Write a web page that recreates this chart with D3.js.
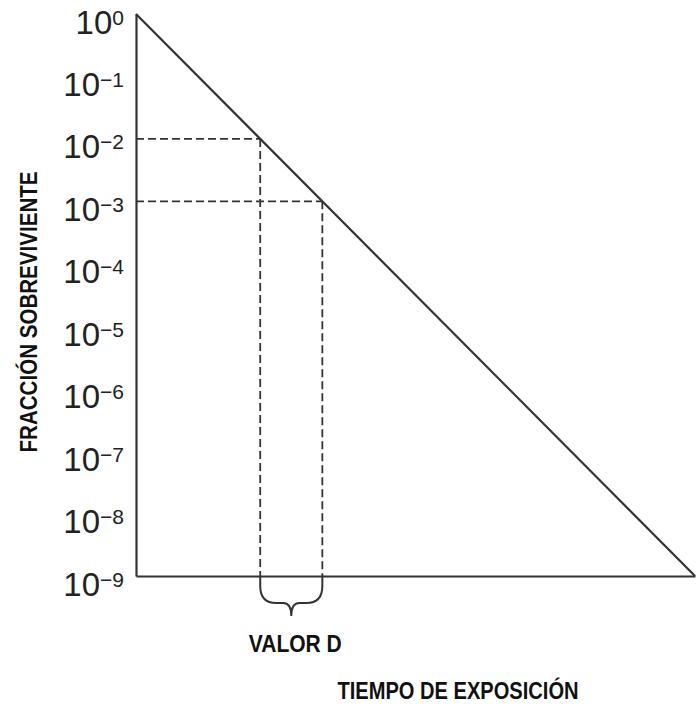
<!DOCTYPE html>
<html>
<head>
<meta charset="utf-8">
<script src="https://cdn.jsdelivr.net/npm/d3@7"></script>
<style>
  html, body { margin: 0; padding: 0; background: #fff; }
  svg { display: block; }
  .tick-label { font-family: "Liberation Sans", Arial, Helvetica, sans-serif; fill: #222; }
  .title { font-family: "Liberation Sans", Arial, Helvetica, sans-serif;
           font-weight: bold; font-size: 24px; fill: #111; }
</style>
</head>
<body>
<script>
// Survival curve: exposure time (arbitrary units) vs surviving fraction
const exposureTime = [0, 9];
const survivingFraction = [1, 1e-9];
// Points used to read the D value (one log reduction)
const dTimes = [2, 3];
const dFractions = [1e-2, 1e-3];
// Decade exponents shown on the vertical axis
const tickExponents = [0, -1, -2, -3, -4, -5, -6, -7, -8, -9];

const W = 696, H = 704;
const plotLeft = 136, plotRight = 695, plotTop = 14, plotBottom = 576;
const ink = "#333";

const svg = d3.select("body").append("svg")
  .attr("width", W).attr("height", H);

const x = d3.scaleLinear().domain([0, 9]).range([plotLeft, plotRight]);
const y = d3.scaleLog().domain([1e-9, 1]).range([plotBottom, plotTop]);

// Dashed guides at the two reading points
const guides = svg.append("g")
  .attr("fill", "none").attr("stroke", ink)
  .attr("stroke-width", 1.8).attr("stroke-dasharray", "8,4");
dTimes.forEach((t, i) => {
  const px = x(t), py = y(dFractions[i]);
  guides.append("path").attr("d", `M${plotLeft},${py}H${px}`);
  guides.append("path").attr("d", `M${px},${py}V${plotBottom}`);
});

// Axes
const yAxis = d3.axisLeft(y)
  .tickValues(tickExponents.map(e => Math.pow(10, e)))
  .tickSize(0).tickSizeOuter(0).tickFormat("");
const gy = svg.append("g").attr("transform", `translate(${plotLeft},0)`).call(yAxis);
gy.select(".domain").attr("stroke", ink).attr("stroke-width", 2.2);

gy.selectAll(".tick").each(function(d, i) {
  const e = tickExponents[i];
  const t = d3.select(this).select("text")
    .attr("class", "tick-label")
    .attr("x", -12).attr("dy", 0).attr("y", 19)
    .attr("text-anchor", "end").attr("fill", "#222")
    .text("");
  t.append("tspan").attr("font-size", 33).text("10");
  t.append("tspan").attr("font-size", 21).attr("dy", -9)
    .text(e === 0 ? "0" : "\u2212" + Math.abs(e));
});

const xAxis = d3.axisBottom(x).tickValues([]).tickSizeOuter(0);
const gx = svg.append("g").attr("transform", `translate(0,${plotBottom})`).call(xAxis);
gx.select(".domain").attr("stroke", ink).attr("stroke-width", 2.2);

// Survival line
const line = d3.line().x(d => x(d[0])).y(d => y(d[1]));
svg.append("path")
  .datum(exposureTime.map((t, i) => [t, survivingFraction[i]]))
  .attr("d", line)
  .attr("fill", "none").attr("stroke", ink).attr("stroke-width", 2.2);

// Brace spanning one D value
const xa = x(dTimes[0]), xb = x(dTimes[1]), mid = (xa + xb) / 2;
const yb = plotBottom;
svg.append("path")
  .attr("d", `M${xa},${yb}V${yb + 10}Q${xa},${yb + 27} ${xa + 16},${yb + 27}` +
             `H${mid - 8}Q${mid},${yb + 27} ${mid},${yb + 40}` +
             `Q${mid},${yb + 27} ${mid + 8},${yb + 27}H${xb - 16}` +
             `Q${xb},${yb + 27} ${xb},${yb + 10}V${yb}`)
  .attr("fill", "none").attr("stroke", ink).attr("stroke-width", 2);

// Condensed bold captions
function caption(txt, width) {
  return svg.append("text").attr("class", "title")
    .attr("text-anchor", "middle")
    .attr("textLength", width).attr("lengthAdjust", "spacingAndGlyphs")
    .text(txt);
}

caption("VALOR D", 93).attr("x", mid + 4).attr("y", 652);
caption("TIEMPO DE EXPOSICIÓN", 241).attr("x", 458).attr("y", 699);
caption("FRACCIÓN SOBREVIVIENTE", 281)
  .attr("transform", "translate(37,312) rotate(-90)");
</script>
</body>
</html>
